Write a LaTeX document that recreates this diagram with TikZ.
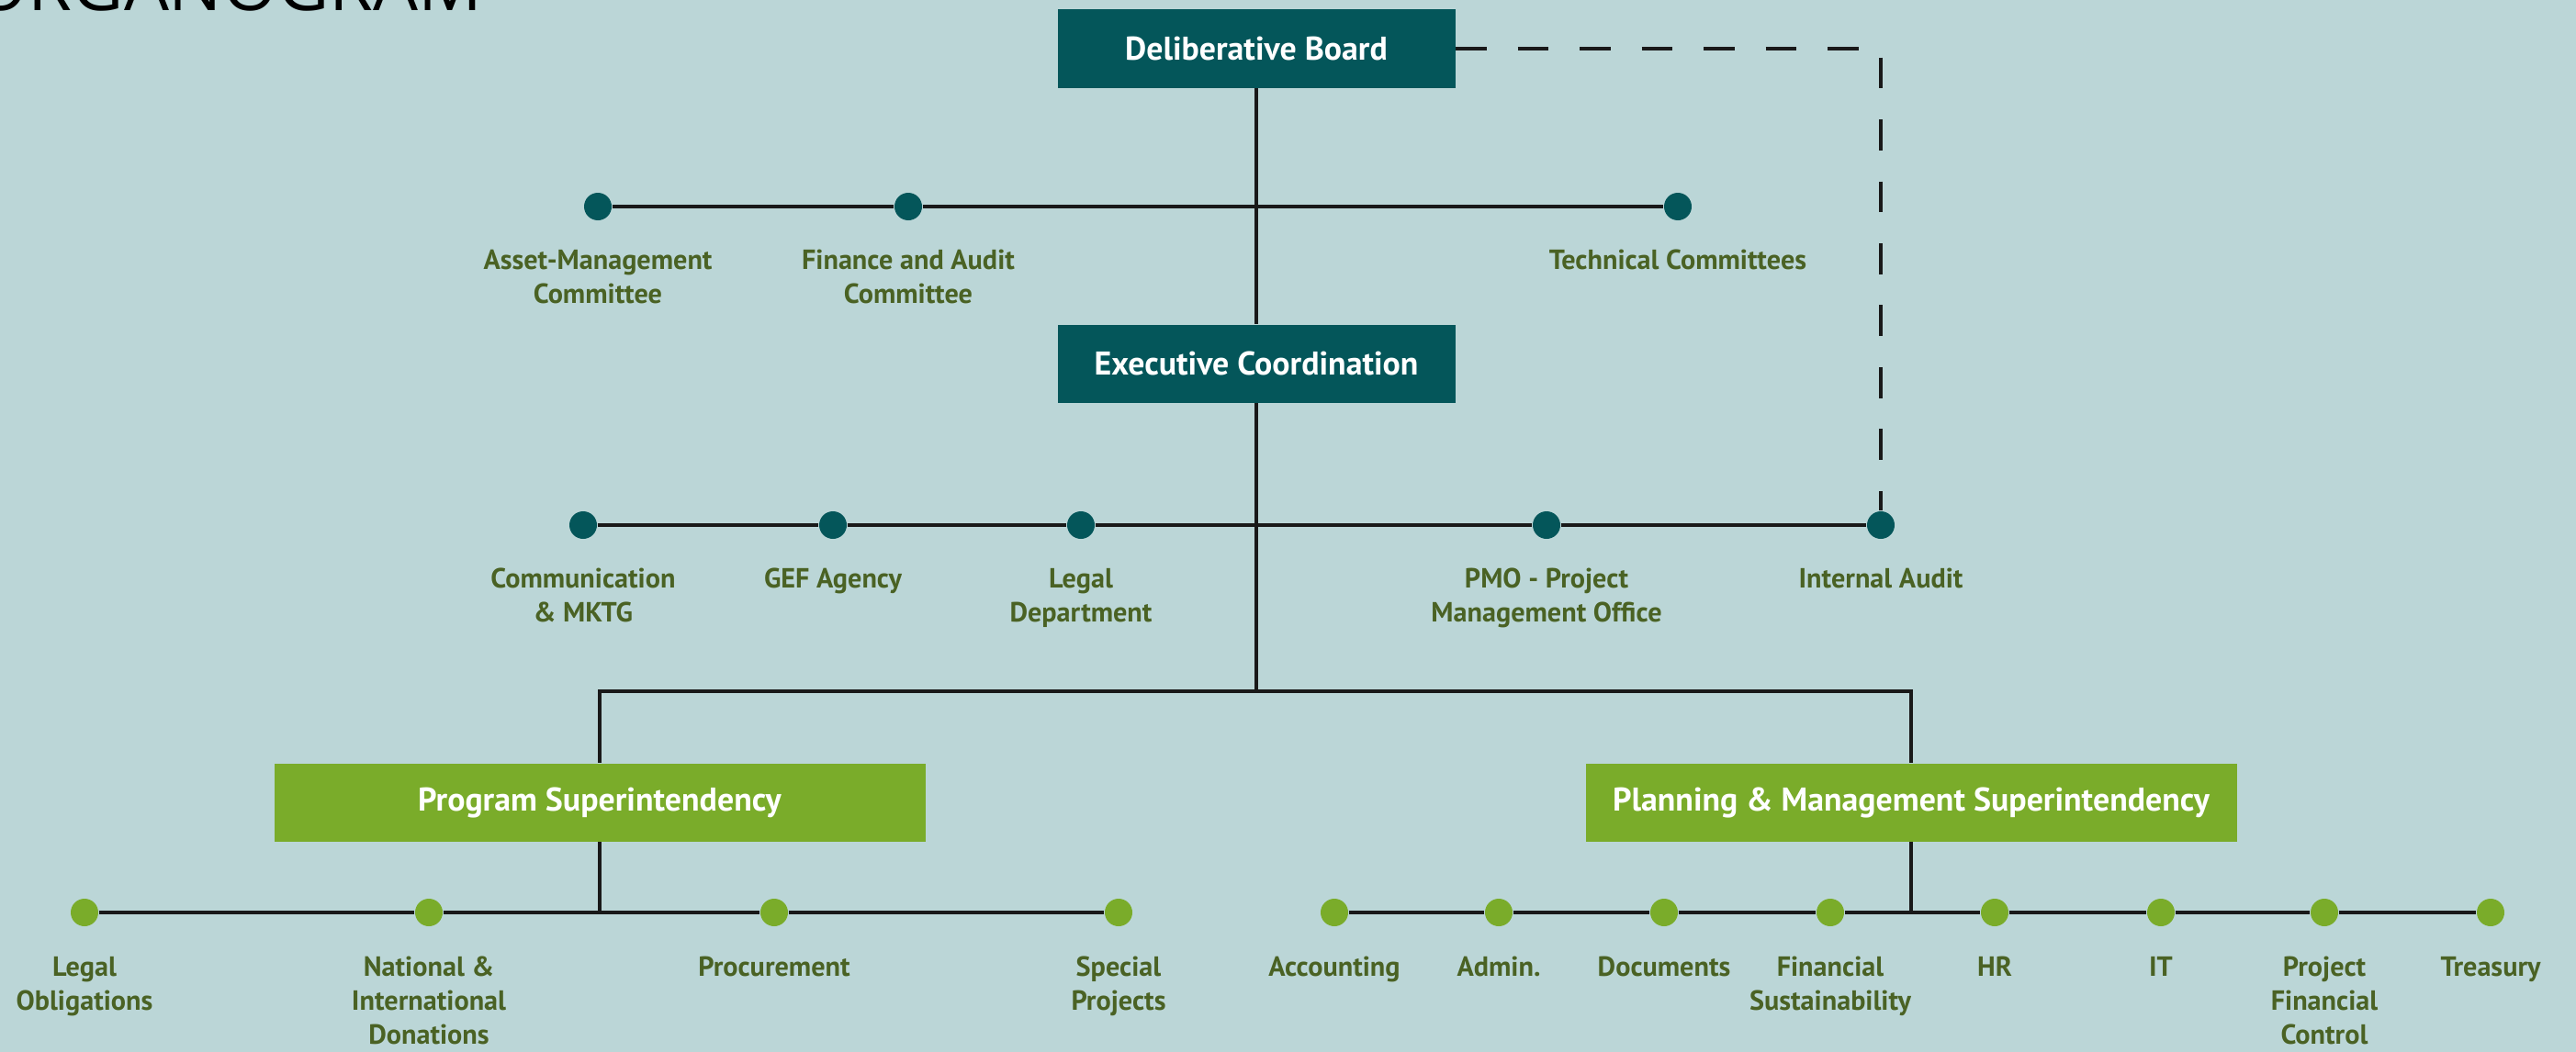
\documentclass[tikz,border=0pt]{standalone}
\usepackage{fontspec}
\setmainfont{PT Sans}
\newfontfamily\titlefont{Open Sans}
\usetikzlibrary{positioning}
\definecolor{orgbg}{RGB}{187,214,215}
\definecolor{boardteal}{RGB}{4,86,90}
\definecolor{supgreen}{RGB}{122,172,42}
\definecolor{unitolive}{RGB}{74,98,36}

\begin{document}
\begin{tikzpicture}[
  headbox/.style={fill=#1, text=white, font=\fontsize{10.2}{12}\selectfont\bfseries,
    minimum height=0.85cm, inner sep=0pt},
  orgdot/.style={circle, fill=#1, minimum size=0.3cm, inner sep=0pt},
  unitlabel/.style={text=unitolive, font=\fontsize{8.6}{10.5}\selectfont\bfseries,
    align=center, inner sep=0pt},
  link/.style={line width=0.9pt, draw=black!90},
]
  \useasboundingbox (0,0) rectangle (28.05,-11.46);
  \fill[orgbg] (0,0) rectangle (28.05,-11.46);
  \clip (0,0) rectangle (28.05,-11.46);

  \node[anchor=base west, inner sep=0pt, font=\titlefont\fontsize{22}{22}\selectfont]
    (title) at (-0.3,-0.12) {ORGANOGRAM};

  % governance
  \node[headbox=boardteal, minimum width=4.33cm] (board) at (13.68,-0.53) {Deliberative Board};
  \node[headbox=boardteal, minimum width=4.33cm] (exec) at (13.68,-3.96) {Executive Coordination};

  \foreach \name/\x/\txt in {asset/6.51/{Asset-Management\\Committee},
      finance/9.89/{Finance and Audit\\Committee}, techcom/18.27/{Technical Committees}} {
    \node[orgdot=boardteal] (\name) at (\x,-2.25) {};
    \node[unitlabel, below=0.31cm of \name] {\txt};
  }
  \foreach \name/\x/\txt in {comm/6.35/{Communication\\\& MKTG}, gef/9.07/{GEF Agency},
      legal/11.77/{Legal\\Department}, pmo/16.84/{PMO - Project\\Management Office},
      audit/20.48/{Internal Audit}} {
    \node[orgdot=boardteal] (\name) at (\x,-5.72) {};
    \node[unitlabel, below=0.31cm of \name] {\txt};
  }

  % superintendencies
  \node[headbox=supgreen, minimum width=7.09cm] (prog) at (6.53,-8.74) {Program Superintendency};
  \node[headbox=supgreen, minimum width=7.09cm] (plan) at (20.81,-8.74) {Planning \& Management Superintendency};
  \coordinate (split) at (13.68,-7.53);
  \coordinate (progjoin) at (6.53,-9.94);
  \coordinate (planjoin) at (20.81,-9.94);

  \foreach \name/\x/\txt in {legob/0.92/{Legal\\Obligations},
      donations/4.67/{National \&\\International\\Donations}, procure/8.43/{Procurement},
      special/12.18/{Special\\Projects}} {
    \node[orgdot=supgreen] (\name) at (\x,-9.94) {};
    \node[unitlabel, below=0.32cm of \name] {\txt};
  }
  \foreach \name/\x/\txt in {accounting/14.53/{Accounting}, admin/16.32/{Admin.},
      documents/18.12/{Documents}, finsus/19.93/{Financial\\Sustainability},
      hr/21.72/{HR}, it/23.53/{IT}, pfc/25.31/{Project\\Financial\\Control},
      treasury/27.12/{Treasury}} {
    \node[orgdot=supgreen] (\name) at (\x,-9.94) {};
    \node[unitlabel, below=0.32cm of \name] {\txt};
  }

  % connectors
  \draw[link] (board) -- (exec);
  \draw[link] (asset) -- (finance) -- (techcom);
  \draw[link] (comm) -- (gef) -- (legal) -- (pmo) -- (audit);
  \draw[link] (exec) -- (split);
  \draw[link] (prog) |- (split) -| (plan);
  \draw[link] (prog) -- (progjoin);
  \draw[link] (plan) -- (planjoin);
  \draw[link] (legob) -- (donations) -- (procure) -- (special);
  \draw[link] (accounting) -- (admin) -- (documents) -- (finsus) -- (hr) -- (it) -- (pfc) -- (treasury);
  \draw[link, dash pattern=on 9.6pt off 9.6pt] (board.east) -| (audit);
\end{tikzpicture}
\end{document}
